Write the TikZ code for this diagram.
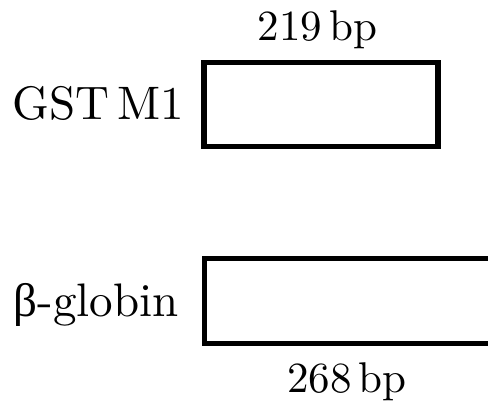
\documentclass[tikz,border=0pt]{standalone}
\usepackage{fontspec}
\setmainfont{lmroman10-regular.otf}
\newfontfamily\grkfont{Liberation Serif}
\begin{document}
\begin{tikzpicture}[x=1pt,y=-1pt,
  genebox/.style={draw=black,line width=5.4pt,fill=white,inner sep=0pt,line join=miter},
  namelabel/.style={font=\fontsize{47}{56}\selectfont,inner sep=0pt,anchor=base west},
  sizelabel/.style={font=\fontsize{43}{52}\selectfont,inner sep=0pt,anchor=base}]
\useasboundingbox (0,0) rectangle (488,405);
\clip (0,0) rectangle (488,405);
\node[genebox,minimum width=234pt,minimum height=84pt] (gst) at (321,104.7) {};
\node[genebox,minimum width=286pt,minimum height=85pt] (bglob) at (347.3,301) {};
\node[namelabel] (gstname) at (12.5,119.3) {GST\,M1};
\node[namelabel] (bname) at (13.5,316.7) {{\grkfont β}-globin};
\node[sizelabel] (gstsize) at (317.5,40) {219\,bp};
\node[sizelabel] (bsize) at (347,392.3) {268\,bp};
\end{tikzpicture}
\end{document}
